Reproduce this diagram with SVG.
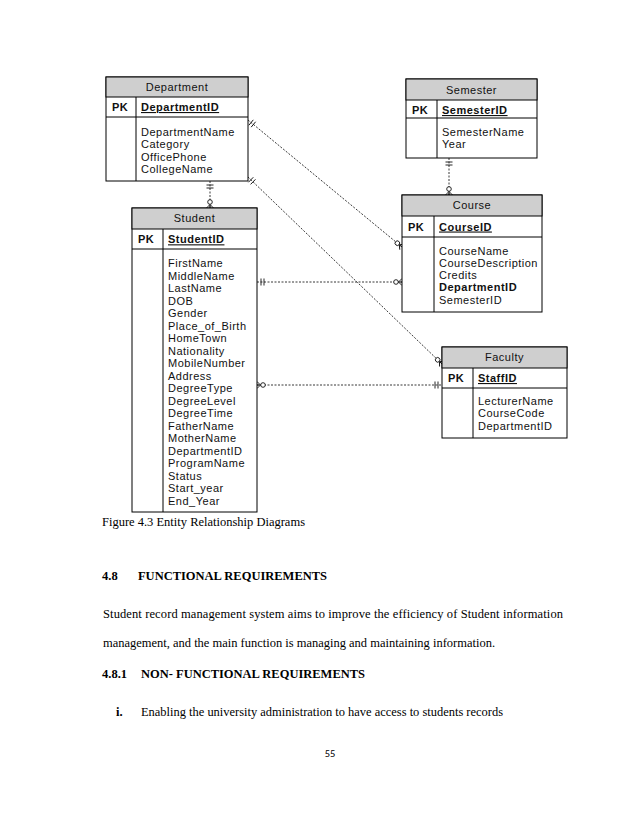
<svg xmlns="http://www.w3.org/2000/svg" xmlns:xlink="http://www.w3.org/1999/xlink" width="638" height="826" viewBox="0 0 638 826">
<style>
.box{fill:#fff;stroke:#000;stroke-width:1}
.hdr{fill:#cfcfcf;stroke:#000;stroke-width:1}
.ln{stroke:#000;stroke-width:1}
.t{font-family:"Liberation Sans",Arial,sans-serif;font-size:11px;letter-spacing:0.5px;fill:#111}
.b{font-weight:bold}
.u{text-decoration:underline}
.c{text-anchor:middle}
.con{fill:none;stroke:#222;stroke-width:0.9;stroke-dasharray:2 1.5}
.deco{fill:none;stroke:#111;stroke-width:0.9}
.doc{font-family:"Liberation Serif","Times New Roman",serif;font-size:12.5px;fill:#000}
</style>
<defs>
<g id="crow"><line class="deco" x1="-3.5" y1="0" x2="0" y2="-3.5"/><line class="deco" x1="-3.5" y1="0" x2="0" y2="3.5"/><line class="deco" x1="-3.5" y1="0" x2="0" y2="0"/><circle cx="-6" cy="0" r="2.3" fill="#fff" stroke="#111" stroke-width="0.9"/></g>
<g id="bars"><line class="deco" x1="-4" y1="-3.5" x2="-4" y2="3.5"/><line class="deco" x1="-7" y1="-3.5" x2="-7" y2="3.5"/></g>
</defs>

<g id="connectors">
<line class="con" x1="210" y1="181" x2="210" y2="208"/>
<line class="con" x1="449" y1="158" x2="449" y2="195"/>
<line class="con" x1="248" y1="120" x2="402" y2="247"/>
<line class="con" x1="248" y1="177" x2="442" y2="364"/>
<line class="con" x1="257" y1="282" x2="402" y2="282"/>
<line class="con" x1="257" y1="385" x2="442" y2="385"/>
<use xlink:href="#bars" transform="translate(210,181) rotate(-90)"/>
<use xlink:href="#crow" transform="translate(210,208) rotate(90)"/>
<use xlink:href="#bars" transform="translate(449,158) rotate(-90)"/>
<use xlink:href="#crow" transform="translate(449,195) rotate(90)"/>
<use xlink:href="#bars" transform="translate(248,120) rotate(219.5)"/>
<use xlink:href="#crow" transform="translate(402,247) rotate(39.5)"/>
<use xlink:href="#bars" transform="translate(248,177) rotate(223.95)"/>
<use xlink:href="#crow" transform="translate(442,364) rotate(43.95)"/>
<use xlink:href="#bars" transform="translate(257,282) rotate(180)"/>
<use xlink:href="#crow" transform="translate(402,282)"/>
<use xlink:href="#crow" transform="translate(257,385) rotate(180)"/>
<use xlink:href="#bars" transform="translate(442,385)"/>
</g>

<g id="department">
<rect class="box" x="106" y="77" width="142" height="104"/>
<rect class="hdr" x="106" y="77" width="142" height="20"/>
<line class="ln" x1="106" y1="117" x2="248" y2="117"/>
<line class="ln" x1="136" y1="97" x2="136" y2="181"/>
<text class="t c" x="177" y="91">Department</text>
<text class="t b" x="112" y="111">PK</text>
<text class="t b u" x="141" y="111">DepartmentID</text>
<text class="t" x="141" y="136">DepartmentName</text>
<text class="t" x="141" y="148.4">Category</text>
<text class="t" x="141" y="160.8">OfficePhone</text>
<text class="t" x="141" y="173.2">CollegeName</text>
</g>

<g id="semester">
<rect class="box" x="406" y="79" width="131" height="79"/>
<rect class="hdr" x="406" y="79" width="131" height="21"/>
<line class="ln" x1="406" y1="118" x2="537" y2="118"/>
<line class="ln" x1="437" y1="100" x2="437" y2="158"/>
<text class="t c" x="471.5" y="93.5">Semester</text>
<text class="t b" x="412" y="114">PK</text>
<text class="t b u" x="442" y="114">SemesterID</text>
<text class="t" x="442" y="135.7">SemesterName</text>
<text class="t" x="442" y="148">Year</text>
</g>

<g id="student">
<rect class="box" x="132" y="208" width="125" height="304"/>
<rect class="hdr" x="132" y="208" width="125" height="21"/>
<line class="ln" x1="132" y1="249" x2="257" y2="249"/>
<line class="ln" x1="163" y1="229" x2="163" y2="512"/>
<text class="t c" x="194.5" y="222">Student</text>
<text class="t b" x="138" y="243.3">PK</text>
<text class="t b u" x="168" y="243.3">StudentID</text>
<text class="t" x="168" y="267.3">FirstName</text>
<text class="t" x="168" y="279.8">MiddleName</text>
<text class="t" x="168" y="292.3">LastName</text>
<text class="t" x="168" y="304.8">DOB</text>
<text class="t" x="168" y="317.3">Gender</text>
<text class="t" x="168" y="329.8">Place_of_Birth</text>
<text class="t" x="168" y="342.3">HomeTown</text>
<text class="t" x="168" y="354.8">Nationality</text>
<text class="t" x="168" y="367.3">MobileNumber</text>
<text class="t" x="168" y="379.8">Address</text>
<text class="t" x="168" y="392.3">DegreeType</text>
<text class="t" x="168" y="404.8">DegreeLevel</text>
<text class="t" x="168" y="417.3">DegreeTime</text>
<text class="t" x="168" y="429.8">FatherName</text>
<text class="t" x="168" y="442.3">MotherName</text>
<text class="t" x="168" y="454.8">DepartmentID</text>
<text class="t" x="168" y="467.3">ProgramName</text>
<text class="t" x="168" y="479.8">Status</text>
<text class="t" x="168" y="492.3">Start_year</text>
<text class="t" x="168" y="504.8">End_Year</text>
</g>

<g id="course">
<rect class="box" x="402" y="195" width="140" height="117"/>
<rect class="hdr" x="402" y="195" width="140" height="21"/>
<line class="ln" x1="402" y1="237" x2="542" y2="237"/>
<line class="ln" x1="434" y1="216" x2="434" y2="312"/>
<text class="t c" x="472" y="209">Course</text>
<text class="t b" x="408" y="230.5">PK</text>
<text class="t b u" x="439" y="230.5">CourseID</text>
<text class="t" x="439" y="254.5">CourseName</text>
<text class="t" x="439" y="266.8">CourseDescription</text>
<text class="t" x="439" y="279.1">Credits</text>
<text class="t b" x="439" y="291.4">DepartmentID</text>
<text class="t" x="439" y="303.7">SemesterID</text>
</g>

<g id="faculty">
<rect class="box" x="442" y="347" width="125" height="91"/>
<rect class="hdr" x="442" y="347" width="125" height="21"/>
<line class="ln" x1="442" y1="388" x2="567" y2="388"/>
<line class="ln" x1="473" y1="368" x2="473" y2="438"/>
<text class="t c" x="504.5" y="361">Faculty</text>
<text class="t b" x="448" y="382">PK</text>
<text class="t b u" x="478" y="382">StaffID</text>
<text class="t" x="478" y="405">LecturerName</text>
<text class="t" x="478" y="417.4">CourseCode</text>
<text class="t" x="478" y="429.8">DepartmentID</text>
</g>

<g id="page-text">
<text class="doc" x="102" y="526" textLength="203" lengthAdjust="spacingAndGlyphs">Figure 4.3 Entity Relationship Diagrams</text>
<text class="doc b" x="102" y="580">4.8</text>
<text class="doc b" x="138" y="580" textLength="189" lengthAdjust="spacingAndGlyphs">FUNCTIONAL REQUIREMENTS</text>
<text class="doc" x="103" y="618" textLength="460" lengthAdjust="spacing">Student record management system aims to improve the efficiency of Student information</text>
<text class="doc" x="103" y="647" textLength="392" lengthAdjust="spacingAndGlyphs">management, and the main function is managing and maintaining information.</text>
<text class="doc b" x="102" y="678">4.8.1</text>
<text class="doc b" x="141" y="678" textLength="224" lengthAdjust="spacingAndGlyphs">NON- FUNCTIONAL REQUIREMENTS</text>
<text class="doc b" x="116" y="716">i.</text>
<text class="doc" x="141" y="716" textLength="362" lengthAdjust="spacingAndGlyphs">Enabling the university administration to have access to students records</text>
<text x="330" y="757" text-anchor="middle" font-family="Carlito,'Liberation Sans',sans-serif" font-size="10.5" fill="#000">55</text>
</g>
</svg>
